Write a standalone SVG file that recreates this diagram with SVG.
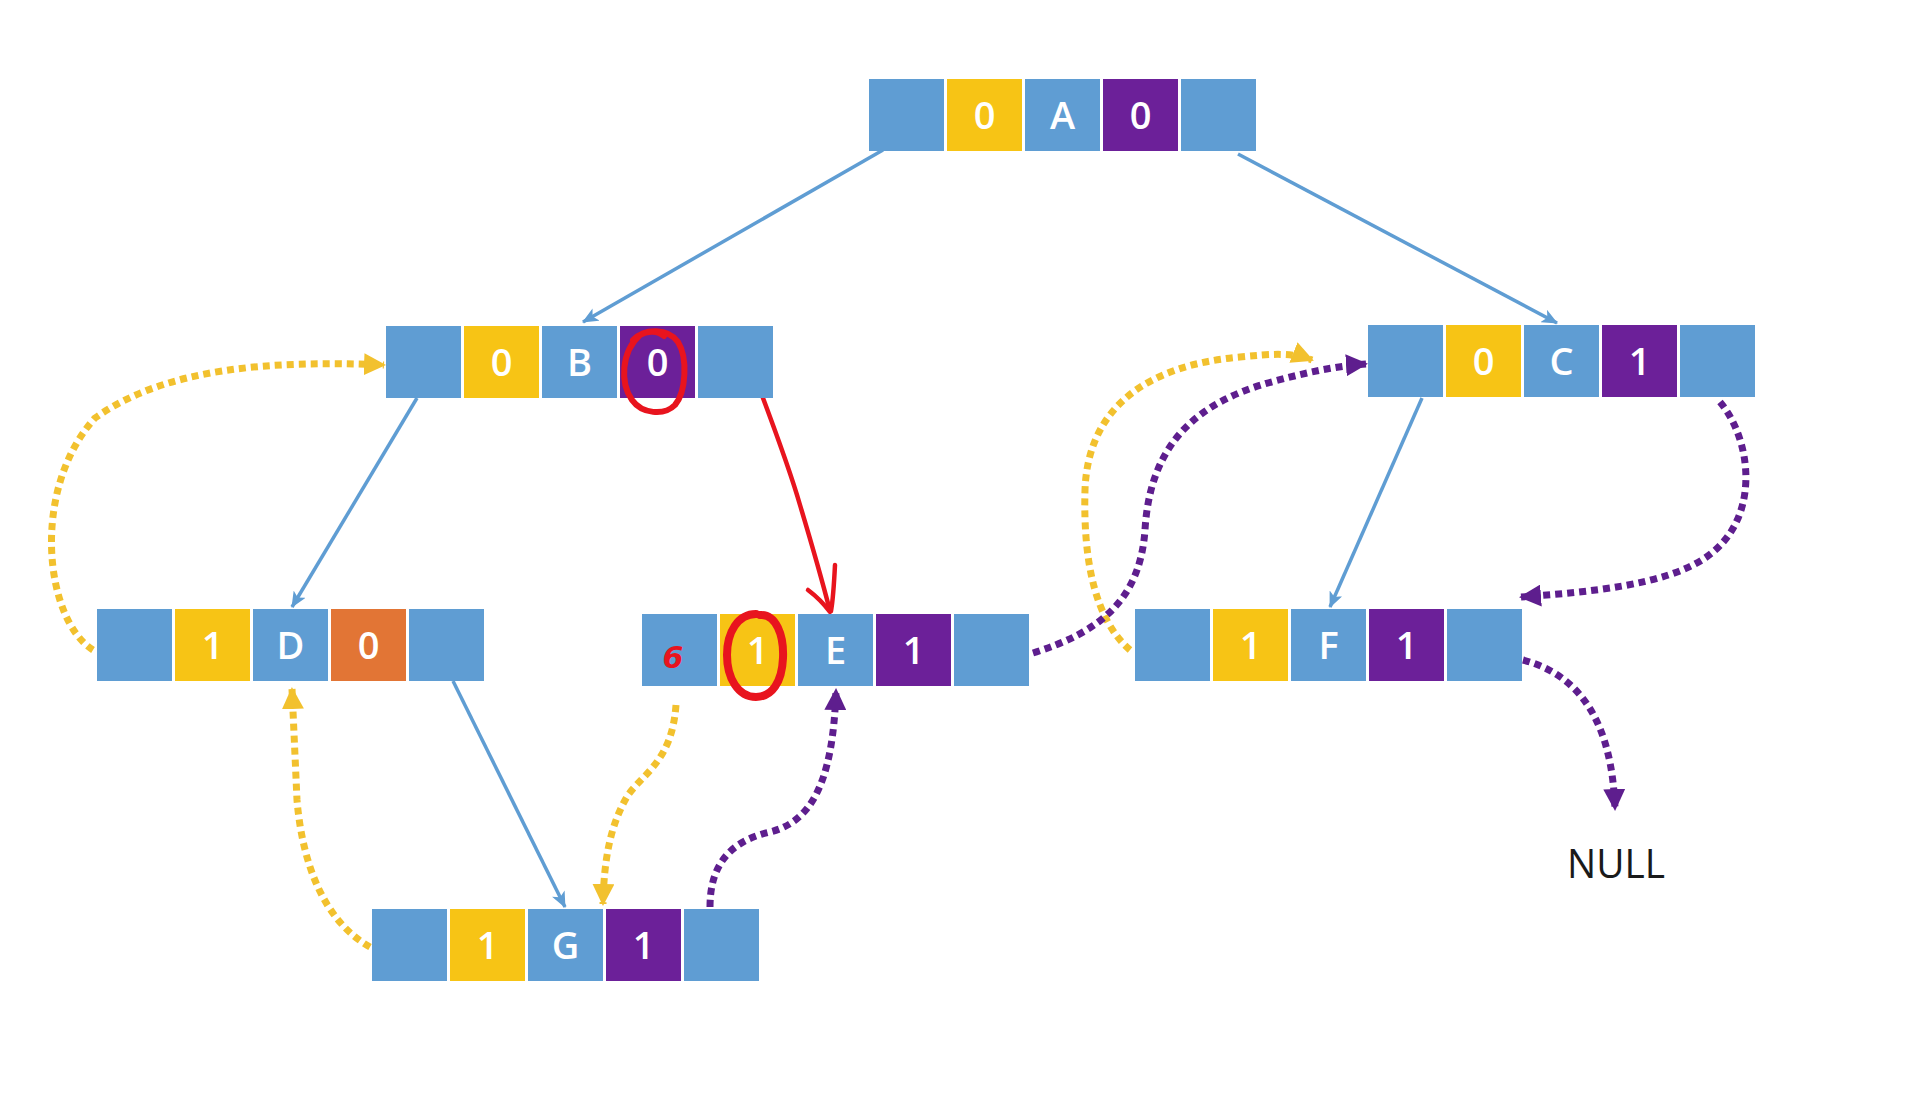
<svg xmlns="http://www.w3.org/2000/svg" width="1927" height="1093" viewBox="0 0 1927 1093">
<style>
.b{fill:#5F9DD3}
.y{fill:#F7C415}
.p{fill:#6C2099}
.o{fill:#E27535}
.t{fill:#ffffff;font-family:"Open Sans","DejaVu Sans",sans-serif;font-weight:600;font-size:38px;text-anchor:middle}
.tree{stroke:#5F9DD3;stroke-width:3.5;fill:none;marker-end:url(#ab)}
.dy{stroke:#F2C12E;stroke-width:7;fill:none;stroke-dasharray:7 5;marker-end:url(#ay)}
.dp{stroke:#5E1E8E;stroke-width:7;fill:none;stroke-dasharray:7 5;marker-end:url(#ap)}
.red{stroke:#E8141E;fill:none;stroke-linecap:round;stroke-linejoin:round}
</style>
<defs>
<marker id="ab" viewBox="0 0 16 14" refX="15" refY="7" markerWidth="16" markerHeight="14" orient="auto" markerUnits="userSpaceOnUse"><path d="M0,0 L16,7 L0,14 L4,7 z" fill="#5F9DD3"/></marker>
<marker id="ay" viewBox="0 0 22 22" refX="20" refY="11" markerWidth="22" markerHeight="22" orient="auto" markerUnits="userSpaceOnUse"><path d="M0,0 L22,11 L0,22 z" fill="#F2C12E"/></marker>
<marker id="ap" viewBox="0 0 22 22" refX="20" refY="11" markerWidth="22" markerHeight="22" orient="auto" markerUnits="userSpaceOnUse"><path d="M0,0 L22,11 L0,22 z" fill="#5E1E8E"/></marker>
</defs>
<rect width="1927" height="1093" fill="#ffffff"/>

<g id="connectors">
<line class="tree" x1="883" y1="150" x2="583" y2="322"/>
<line class="tree" x1="1238" y1="154" x2="1557" y2="323"/>
<line class="tree" x1="417" y1="398" x2="292" y2="607"/>
<line class="tree" x1="453" y1="681" x2="565" y2="907"/>
<line class="tree" x1="1422" y1="398" x2="1330" y2="607"/>

<path class="dy" d="M93,650 C45,620 30,490 95,418 C165,368 270,360 384,365"/>
<path class="dy" d="M370,947 C322,920 302,860 297,800 L292,689"/>
<path class="dy" d="M676,705 C672,760 645,772 628,795 C610,825 604,860 603,904"/>
<path class="dy" d="M1130,650 C1095,620 1083,560 1085,490 C1088,405 1150,365 1240,357 C1270,354 1292,352 1312,360"/>

<path class="dp" d="M710,907 C710,860 735,840 770,832 C810,822 833,785 836,690"/>
<path class="dp" d="M1033,653 C1100,632 1140,600 1145,530 C1150,445 1195,402 1275,381 C1305,373 1335,366 1366,364"/>
<path class="dp" d="M1720,402 C1752,440 1762,520 1705,558 C1665,585 1590,592 1521,597"/>
<path class="dp" d="M1523,660 C1580,675 1612,722 1615,809"/>

<path class="red" stroke-width="4.5" d="M760,390 C775,430 790,470 800,505 C812,545 822,580 830,611"/>
<path class="red" stroke-width="4.5" d="M808,590 C816,596 824,604 830,612 M835,565 C834,585 833,600 831,611"/>
</g>

<g id="nodeA">
<rect class="b" x="869" y="79" width="75" height="72"/>
<rect class="y" x="947" y="79" width="75" height="72"/>
<rect class="b" x="1025" y="79" width="75" height="72"/>
<rect class="p" x="1103" y="79" width="75" height="72"/>
<rect class="b" x="1181" y="79" width="75" height="72"/>
<text class="t" x="984.5" y="128.5">0</text>
<text class="t" x="1062.5" y="128.5">A</text>
<text class="t" x="1140.5" y="128.5">0</text>
</g>

<g id="nodeB">
<rect class="b" x="386" y="326" width="75" height="72"/>
<rect class="y" x="464" y="326" width="75" height="72"/>
<rect class="b" x="542" y="326" width="75" height="72"/>
<rect class="p" x="620" y="326" width="75" height="72"/>
<rect class="b" x="698" y="326" width="75" height="72"/>
<text class="t" x="501.5" y="375.5">0</text>
<text class="t" x="579.5" y="375.5">B</text>
<text class="t" x="657.5" y="375.5">0</text>
<path class="red" stroke-width="6" d="M633,340 C645,328 668,328 678,342 C688,358 686,392 675,405 C664,416 642,414 632,400 C620,383 621,352 640,335 C648,330 658,331 664,336"/>
</g>

<g id="nodeC">
<rect class="b" x="1368" y="325" width="75" height="72"/>
<rect class="y" x="1446" y="325" width="75" height="72"/>
<rect class="b" x="1524" y="325" width="75" height="72"/>
<rect class="p" x="1602" y="325" width="75" height="72"/>
<rect class="b" x="1680" y="325" width="75" height="72"/>
<text class="t" x="1483.5" y="374.5">0</text>
<text class="t" x="1561.5" y="374.5">C</text>
<text class="t" x="1639.5" y="374.5">1</text>
</g>

<g id="nodeD">
<rect class="b" x="97" y="609" width="75" height="72"/>
<rect class="y" x="175" y="609" width="75" height="72"/>
<rect class="b" x="253" y="609" width="75" height="72"/>
<rect class="o" x="331" y="609" width="75" height="72"/>
<rect class="b" x="409" y="609" width="75" height="72"/>
<text class="t" x="212.5" y="658.5">1</text>
<text class="t" x="290.5" y="658.5">D</text>
<text class="t" x="368.5" y="658.5">0</text>
</g>

<g id="nodeE">
<rect class="b" x="642" y="614" width="75" height="72"/>
<rect class="y" x="720" y="614" width="75" height="72"/>
<rect class="b" x="798" y="614" width="75" height="72"/>
<rect class="p" x="876" y="614" width="75" height="72"/>
<rect class="b" x="954" y="614" width="75" height="72"/>
<text x="673" y="668" fill="#E8141E" font-family="DejaVu Sans, sans-serif" font-style="italic" font-weight="bold" font-size="30" text-anchor="middle">6</text>
<text class="t" x="757.5" y="663.5">1</text>
<text class="t" x="835.5" y="663.5">E</text>
<text class="t" x="913.5" y="663.5">1</text>
<path class="red" stroke-width="8" d="M760,615 C776,614 784,635 783,658 C782,682 772,697 756,697 C738,697 727,678 727,655 C727,632 738,614 756,614"/>
</g>

<g id="nodeF">
<rect class="b" x="1135" y="609" width="75" height="72"/>
<rect class="y" x="1213" y="609" width="75" height="72"/>
<rect class="b" x="1291" y="609" width="75" height="72"/>
<rect class="p" x="1369" y="609" width="75" height="72"/>
<rect class="b" x="1447" y="609" width="75" height="72"/>
<text class="t" x="1250.5" y="658.5">1</text>
<text class="t" x="1328.5" y="658.5">F</text>
<text class="t" x="1406.5" y="658.5">1</text>
</g>

<g id="nodeG">
<rect class="b" x="372" y="909" width="75" height="72"/>
<rect class="y" x="450" y="909" width="75" height="72"/>
<rect class="b" x="528" y="909" width="75" height="72"/>
<rect class="p" x="606" y="909" width="75" height="72"/>
<rect class="b" x="684" y="909" width="75" height="72"/>
<text class="t" x="487.5" y="958.5">1</text>
<text class="t" x="565.5" y="958.5">G</text>
<text class="t" x="643.5" y="958.5">1</text>
</g>

<g id="nodeNULL">
<text x="1616" y="878" fill="#1a1a1a" font-family="Open Sans, DejaVu Sans, sans-serif" font-size="40" text-anchor="middle" textLength="98" lengthAdjust="spacingAndGlyphs">NULL</text>
</g>
</svg>
